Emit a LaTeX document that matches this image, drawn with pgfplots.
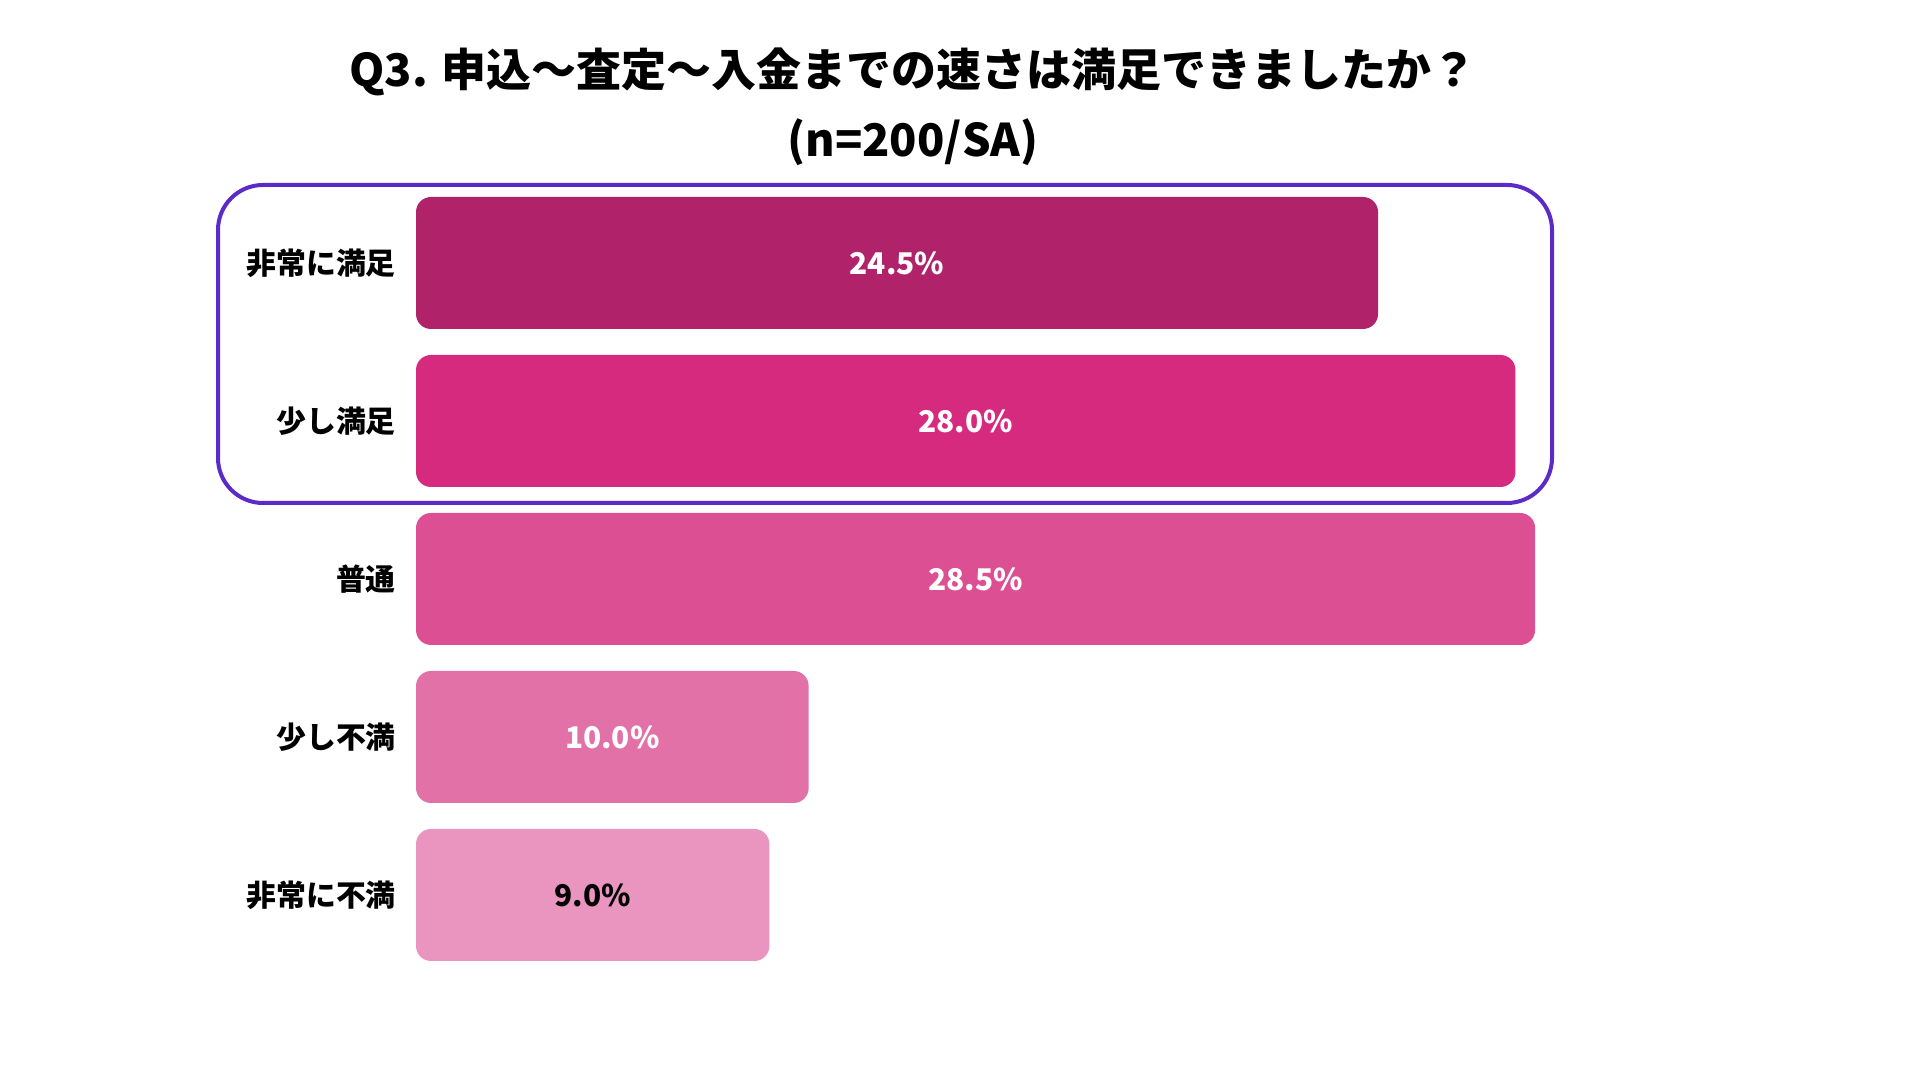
\documentclass[border=0pt]{standalone}
\usepackage{pgfplots}
\pgfplotsset{compat=1.18}
\usepackage{pgfplotstable}
\usepackage{fontspec}
\setmainfont{Noto Sans CJK JP}

\definecolor{c1}{HTML}{B0236A}
\definecolor{c2}{HTML}{D62A7F}
\definecolor{c3}{HTML}{DC4F93}
\definecolor{c4}{HTML}{E171A7}
\definecolor{c5}{HTML}{E995BF}
\definecolor{boxc}{HTML}{5B2BC9}

% pos = row from the top, v = share in %
\pgfplotstableread{
pos v
0 24.5
1 28.0
2 28.5
3 10.0
4 9.0
}\answers

\begin{document}
\begin{tikzpicture}
% canvas 1920x1080 px, 1 px = 0.1 mm
\path[use as bounding box] (0,0) rectangle (192mm,108mm);

\node[font=\fontsize{12.8}{15}\selectfont\bfseries] at (91.3mm,100.8mm) {Q3. 申込〜査定〜入金までの速さは満足できましたか？};
\node[font=\fontsize{12.8}{15}\selectfont\bfseries] at (91.3mm,93.8mm) {(n=200/SA)};

\begin{axis}[
  at={(41.6mm,89.6mm)}, anchor=north west,
  scale only axis,
  width=117.8mm, height=79mm,
  xmin=1, xmax=31,
  ymin=-0.5, ymax=4.5, y dir=reverse,
  xtick=\empty,
  ytick={0,1,2,3,4},
  yticklabels={非常に満足,少し満足,普通,少し不満,非常に不満},
  yticklabel style={font=\fontsize{8.5}{10}\selectfont\bfseries, inner sep=0pt, xshift=-1.95mm},
  axis line style={draw=none},
  major tick length=0pt,
  xbar, bar width=13.2mm, bar shift=0pt,
  every axis plot/.append style={draw=none, rounded corners=1.5mm},
  point meta=explicit,
  visualization depends on={\thisrow{v} \as \val},
  nodes near coords={\pgfmathprintnumber[fixed,fixed zerofill,precision=1,assume math mode=true]{\pgfplotspointmeta}\%},
  every node near coord/.append style={anchor=center, xshift={-\val*1.9633mm},
    font=\fontsize{8.5}{10}\selectfont\bfseries, text=white, rounded corners=0pt},
]
% the bars start one unit left of the axis, so the clip hides their left corners
\addplot[fill=c1] table[x expr=\thisrow{v}+1, y=pos, meta=v, restrict y to domain=0:0] {\answers};
\addplot[fill=c2] table[x expr=\thisrow{v}+1, y=pos, meta=v, restrict y to domain=1:1] {\answers};
\addplot[fill=c3] table[x expr=\thisrow{v}+1, y=pos, meta=v, restrict y to domain=2:2] {\answers};
\addplot[fill=c4] table[x expr=\thisrow{v}+1, y=pos, meta=v, restrict y to domain=3:3] {\answers};
\addplot[fill=c5, every node near coord/.append style={text=black}]
  table[x expr=\thisrow{v}+1, y=pos, meta=v, restrict y to domain=4:4] {\answers};
\end{axis}

\draw[boxc, line width=0.4mm, rounded corners=4.5mm] (21.8mm,89.5mm) rectangle (155.2mm,57.7mm);
\end{tikzpicture}
\end{document}
